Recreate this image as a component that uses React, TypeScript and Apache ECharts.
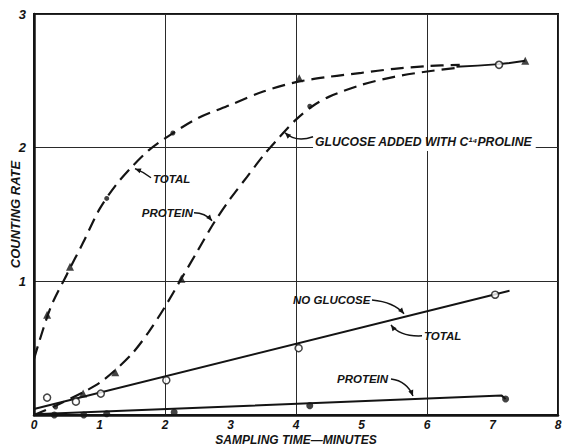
import React, { useEffect, useRef } from "react";
import * as echarts from "echarts";

// ---- data ----
const xTicks = [0, 1, 2, 3, 4, 5, 6, 7, 8];
const yTicks = [0, 1, 2, 3];

// Glucose added with C14 proline
const glucoseTotalPts = [[0.2, 0.75], [0.55, 1.11], [1.11, 1.62], [2.12, 2.11], [4.05, 2.52], [7.5, 2.65]];
const glucoseTotalSymbols = ["triangle", "triangle", "circle", "circle", "triangle", "triangle"];
const glucoseTotalCurveX = [0, 0.25, 0.5, 0.75, 1, 1.25, 1.5, 1.75, 2, 2.5, 3, 3.5, 4, 4.5, 5, 5.5, 6, 6.5];
const glucoseTotalCurveY = [0.42, 0.8, 1.05, 1.29, 1.54, 1.72, 1.86, 1.98, 2.07, 2.22, 2.32, 2.42, 2.49, 2.53, 2.56, 2.59, 2.61, 2.62];

const glucoseProteinPts = [[0.33, 0.06], [0.75, 0.16], [1.24, 0.32], [2.25, 1.02], [4.21, 2.31], [7.1, 2.62]];
const glucoseProteinSymbols = ["circle", "triangle", "triangle", "triangle", "circle", "open"];
const glucoseProteinCurveX = [0, 0.33, 0.75, 1, 1.25, 1.5, 1.75, 2, 2.25, 2.5, 2.75, 3, 3.25, 3.5, 3.75, 4, 4.25, 4.5, 5, 5.5, 6, 6.5];
const glucoseProteinCurveY = [0, 0.07, 0.17, 0.24, 0.34, 0.46, 0.62, 0.81, 1.02, 1.23, 1.44, 1.62, 1.78, 1.94, 2.08, 2.21, 2.31, 2.38, 2.47, 2.53, 2.57, 2.6];
const mergedTail = [[6.45, 2.605], [7.1, 2.625], [7.5, 2.65]];

// No glucose
const noGlucoseTotalPts = [[0.2, 0.13], [0.64, 0.1], [1.02, 0.16], [2.02, 0.26], [4.04, 0.5], [7.04, 0.9]];
const noGlucoseTotalLine = [[0, 0.045], [7.26, 0.93]];
const noGlucoseProteinPts = [[0.31, 0], [0.76, 0], [1.11, 0.01], [2.14, 0.02], [4.21, 0.07], [7.2, 0.12]];
const noGlucoseProteinLine = [[0, 0.005], [7.14, 0.145], [7.2, 0.12]];

// Annotations (data coordinates): label, text anchor, align, arrow start, control, tip
const annotations = [
  { text: "TOTAL", size: 11.5, at: [1.817, 1.768], align: "left", from: [1.786, 1.775], ctrl: [1.664, 1.82], tip: [1.542, 1.843] },
  { text: "PROTEIN", size: 11.5, at: [2.427, 1.513], align: "right", from: [2.443, 1.513], ctrl: [2.611, 1.513], tip: [2.718, 1.453] },
  { text: "GLUCOSE ADDED WITH C¹⁴PROLINE", size: 12.2, at: [4.29, 2.045], align: "left", from: [4.26, 2.082], ctrl: [4.0, 2.037], tip: [3.832, 2.112] },
  { text: "NO GLUCOSE", size: 11.5, at: [3.954, 0.861], align: "left", from: [5.16, 0.861], ctrl: [5.496, 0.846], tip: [5.649, 0.757] },
  { text: "TOTAL", size: 11.5, at: [5.954, 0.592], align: "left", from: [5.924, 0.592], ctrl: [5.588, 0.584], tip: [5.45, 0.674] },
  { text: "PROTEIN", size: 11.5, at: [4.626, 0.27], align: "left", from: [5.45, 0.27], ctrl: [5.695, 0.255], tip: [5.786, 0.142] },
];
const maskBox = [[4.26, 2.03], [7.66, 1.975]];

const INK = "#141414";
const FONT = "Liberation Sans";

const zip = (xs: number[], ys: number[]) => xs.map((x, i) => [x, ys[i]]);

export default function App() {
  const ref = useRef<HTMLDivElement>(null);
  useEffect(() => {
    const chart = echarts.init(ref.current!, null, { renderer: "svg" });
    const labelStyle = { color: INK, fontFamily: FONT, fontWeight: "bold", fontStyle: "italic", fontSize: 12.5 };
    const sym = (s: string) => (s === "open" ? "circle" : s);
    const dashed = { color: INK, width: 2.2, type: [13, 7] };
    chart.setOption({
      animation: false,
      backgroundColor: "#fff",
      grid: { left: 34, right: 4, top: 14, bottom: 31, show: true, borderColor: INK, borderWidth: 2, containLabel: false, outerBoundsMode: "none" },
      xAxis: [
        {
          type: "value", min: 0, max: 8, interval: 1,
          axisLine: { show: true, lineStyle: { color: INK, width: 2.5 } },
          axisTick: { show: false },
          splitLine: { show: false },
          axisLabel: { ...labelStyle, fontSize: 12, margin: 4, formatter: (v: number) => (xTicks.includes(v) ? String(v) : "") },
          name: "SAMPLING TIME—MINUTES", nameLocation: "middle", nameGap: 18.5, nameMoveOverlap: false,
          nameTextStyle: { ...labelStyle, fontSize: 12 },
        },
        {
          type: "value", min: 0, max: 8, interval: 2, position: "bottom",
          axisLine: { show: false }, axisTick: { show: false }, axisLabel: { show: false },
          splitLine: { show: true, lineStyle: { color: "#2a2a2a", width: 1 } },
        },
      ],
      yAxis: {
        type: "value", min: 0, max: 3, interval: 1,
        axisLine: { show: true, lineStyle: { color: INK, width: 2.5 } },
        axisTick: { show: false },
        splitLine: { show: true, lineStyle: { color: "#2a2a2a", width: 1 } },
        axisLabel: { ...labelStyle, fontSize: 13, margin: 8, formatter: (v: number) => (v === 0 || !yTicks.includes(v) ? "" : String(v)) },
        name: "COUNTING RATE", nameLocation: "middle", nameGap: 12, nameRotate: 90, nameMoveOverlap: false,
        nameTextStyle: { ...labelStyle, fontSize: 13 },
      },
      series: [
        {
          type: "line", data: zip(glucoseTotalCurveX, glucoseTotalCurveY), smooth: 0.3, showSymbol: false, silent: true,
          lineStyle: dashed,
        },
        {
          type: "line", data: zip(glucoseProteinCurveX, glucoseProteinCurveY), smooth: 0.3, showSymbol: false, silent: true,
          lineStyle: dashed,
        },
        {
          type: "line", data: mergedTail, smooth: true, showSymbol: false, silent: true,
          lineStyle: { color: INK, width: 2 },
        },
        {
          type: "line", data: noGlucoseTotalLine, showSymbol: false, silent: true,
          lineStyle: { color: INK, width: 2 },
        },
        {
          type: "line", data: noGlucoseProteinLine, showSymbol: false, silent: true,
          lineStyle: { color: INK, width: 2 },
        },
        {
          type: "scatter", clip: false, z: 5,
          data: glucoseTotalPts.map((p, i) => ({
            value: p, symbol: sym(glucoseTotalSymbols[i]),
            symbolSize: glucoseTotalSymbols[i] === "triangle" ? 8 : 5,
          })),
          itemStyle: { color: INK },
        },
        {
          type: "scatter", clip: false, z: 5,
          data: glucoseProteinPts.map((p, i) => ({
            value: p, symbol: sym(glucoseProteinSymbols[i]),
            symbolSize: glucoseProteinSymbols[i] === "triangle" ? 8 : glucoseProteinSymbols[i] === "open" ? 7 : 5,
            itemStyle: glucoseProteinSymbols[i] === "open" ? { color: "#fff", borderColor: INK, borderWidth: 1.6 } : { color: INK },
          })),
        },
        {
          type: "scatter", clip: false, z: 5, data: noGlucoseTotalPts, symbol: "circle", symbolSize: 7,
          itemStyle: { color: "#fff", borderColor: INK, borderWidth: 1.5 },
        },
        {
          type: "scatter", clip: false, z: 5, data: noGlucoseProteinPts, symbol: "circle", symbolSize: 7,
          itemStyle: { color: INK },
        },
      ],
    });

    const P = (p: number[]) => chart.convertToPixel({ xAxisIndex: 0, yAxisIndex: 0 }, p) as number[];
    const g: any[] = [];
    const m0 = P(maskBox[0]);
    const m1 = P(maskBox[1]);
    g.push({ type: "rect", z: 50, shape: { x: m0[0], y: m0[1], width: m1[0] - m0[0], height: m1[1] - m0[1] }, style: { fill: "#fff" } });
    annotations.forEach((a) => {
      const t = P(a.at);
      g.push({
        type: "text", z: 60, x: t[0], y: t[1],
        style: {
          text: a.text, fill: INK, fontFamily: FONT, fontWeight: "bold", fontStyle: "italic", fontSize: a.size,
          align: a.align, verticalAlign: "middle",
        },
      });
      const s = P(a.from), c = P(a.ctrl), e = P(a.tip);
      g.push({
        type: "bezierCurve", z: 60,
        shape: { x1: s[0], y1: s[1], x2: e[0], y2: e[1], cpx1: c[0], cpy1: c[1] },
        style: { stroke: INK, lineWidth: 1.5, fill: null },
      });
      const dx = e[0] - c[0], dy = e[1] - c[1];
      const L = Math.hypot(dx, dy) || 1;
      const ux = dx / L, uy = dy / L;
      const px = -uy, py = ux;
      g.push({
        type: "polygon", z: 60,
        shape: { points: [[e[0], e[1]], [e[0] - 6 * ux + 2.6 * px, e[1] - 6 * uy + 2.6 * py], [e[0] - 6 * ux - 2.6 * px, e[1] - 6 * uy - 2.6 * py]] },
        style: { fill: INK },
      });
    });
    chart.setOption({ graphic: g });
    return () => chart.dispose();
  }, []);
  return <div ref={ref} style={{ position: "absolute", left: 0, top: 0, width: 562, height: 446 }} />;
}
